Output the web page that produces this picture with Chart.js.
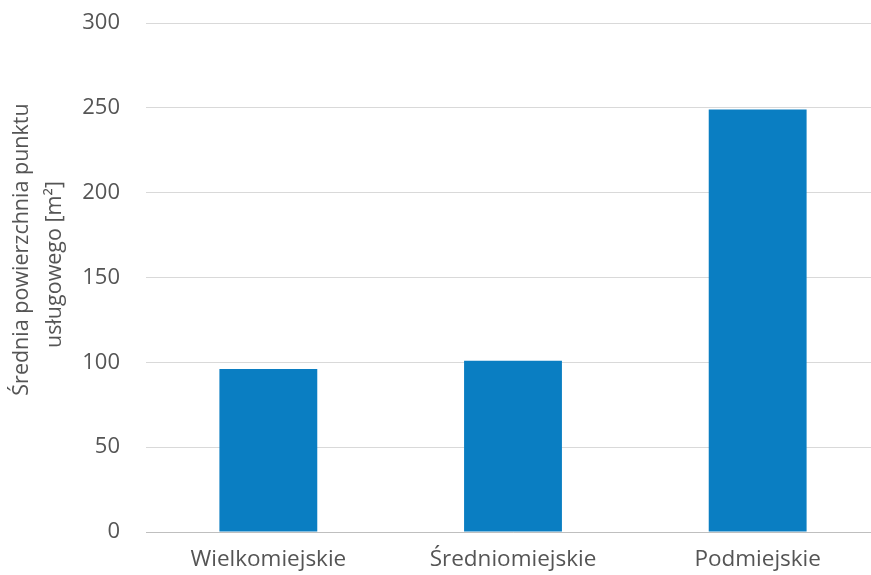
<!DOCTYPE html>
<html>
<head>
<meta charset="utf-8">
<script src="https://cdn.jsdelivr.net/npm/chart.js@4"></script>
<style>
  html, body { margin: 0; padding: 0; background: #ffffff; overflow: hidden; }
  #wrap { position: relative; width: 880px; height: 575px; }
</style>
</head>
<body>
<div id="wrap"><canvas id="chart"></canvas></div>
<script>
// Average floor area of a service point by settlement type
const categories = ['Wielkomiejskie', 'Średniomiejskie', 'Podmiejskie'];
const areaValues = [96, 101, 249];
const yTicks = [0, 50, 100, 150, 200, 250, 300];
const yTitle = ['Średnia powierzchnia punktu', 'usługowego [m²]'];

const textColor = '#555555';
const fontFamily = '"Open Sans", "DejaVu Sans", sans-serif';

// Two-line rotated axis title, placed beside the value axis
const axisTitlePlugin = {
  id: 'axisTitle',
  afterDraw(chart) {
    const { ctx, chartArea } = chart;
    const mid = (chartArea.top + chartArea.bottom) / 2;
    const lines = [
      { text: yTitle[0], x: 22, y: mid - 28 },
      { text: yTitle[1], x: 55, y: mid - 13 }
    ];
    ctx.save();
    ctx.fillStyle = textColor;
    ctx.font = '21.5px ' + fontFamily;
    ctx.textAlign = 'center';
    ctx.textBaseline = 'middle';
    lines.forEach(l => {
      ctx.save();
      ctx.translate(l.x, l.y);
      ctx.rotate(-Math.PI / 2);
      ctx.fillText(l.text, 0, 0);
      ctx.restore();
    });
    ctx.restore();
  }
};

new Chart(document.getElementById('chart'), {
  type: 'bar',
  data: {
    labels: categories,
    datasets: [{
      data: areaValues,
      backgroundColor: '#0a7ec2',
      borderWidth: 0,
      barPercentage: 0.4,
      categoryPercentage: 1.0
    }]
  },
  plugins: [axisTitlePlugin],
  options: {
    responsive: true,
    maintainAspectRatio: false,
    animation: false,
    layout: { padding: { top: 0, left: 4, right: 0, bottom: 0 } },
    plugins: { legend: { display: false }, tooltip: { enabled: false } },
    scales: {
      x: {
        afterFit: (axis) => { axis.height = 43; },
        grid: { display: false, drawTicks: false },
        border: { display: true, color: '#bfbfbf', width: 1 },
        ticks: { color: textColor, font: { family: fontFamily, size: 22.5 }, padding: 14 }
      },
      y: {
        min: 0,
        max: 300,
        afterFit: (axis) => { axis.width = 142; axis.paddingTop = 23; axis.paddingBottom = 0; },
        afterBuildTicks: (axis) => { axis.ticks = yTicks.map(v => ({ value: v })); },
        grid: { color: '#d9d9d9', lineWidth: 1, drawTicks: false },
        border: { display: false },
        ticks: { color: textColor, font: { family: fontFamily, size: 22 }, padding: 26 },
        title: { display: false }
      }
    }
  }
});
</script>
</body>
</html>
